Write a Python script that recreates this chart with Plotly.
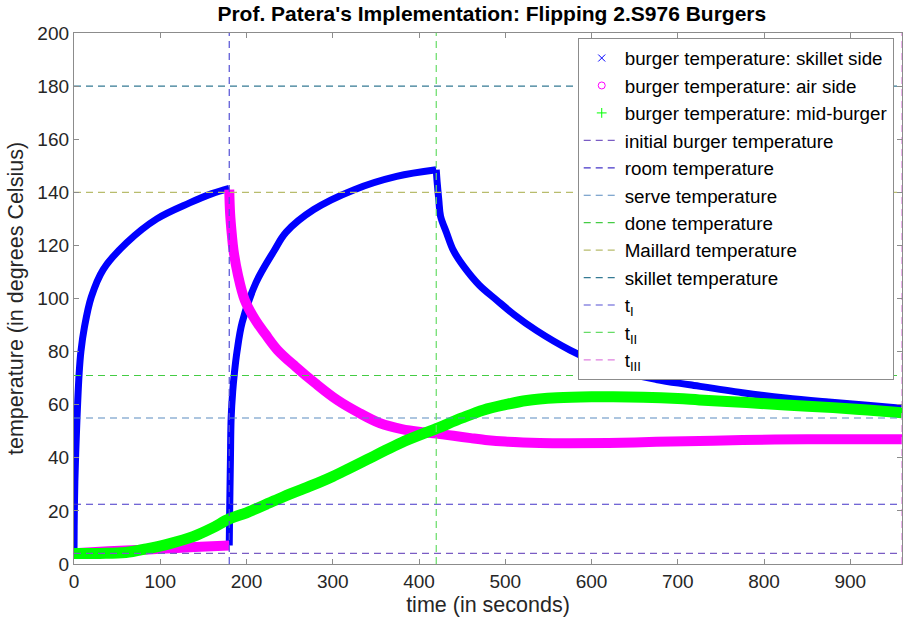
import plotly.graph_objects as go

# ---- burger surface / centre temperatures (time in s, temperature in deg C) ----
# skillet-side surface: three pieces (first side down, second side down, off the heat)
skillet_t1 = [0, 0.2, 0.5, 1, 2, 3.5, 6, 8, 12, 20, 34, 61, 96, 134, 160, 180]
skillet_T1 = [4, 14, 22, 31, 42, 55, 72, 80, 89, 100.5, 111, 121, 130, 136, 139.5, 141.5]
skillet_t2 = [180, 180.3, 180.8, 181.4, 182.2, 184, 186, 189, 195, 211, 232, 246, 278, 325, 374, 420]
skillet_T2 = [7, 16, 27, 40, 55, 65, 72, 80, 91, 106, 118, 125, 133.5, 141, 146, 148.5]
skillet_t3 = [420, 421, 423, 425, 432, 440, 452, 470, 490, 510, 536, 575, 625, 675, 714,
              775, 825, 875, 920, 960]
skillet_T3 = [148.5, 144, 137, 131, 124.7, 118, 112, 105, 99.4, 94, 88, 80.6, 73.5, 69.5,
              67.5, 64.5, 62.5, 61, 59.8, 58.7]

# air-side surface: before and after the first flip
air_t1 = [0, 30, 60, 100, 140, 180]
air_T1 = [4, 4.6, 5.1, 5.7, 6.4, 7]
air_t2 = [180, 181, 183, 185, 190, 198, 210, 222, 236, 257, 280, 305, 330, 355, 380, 405,
          420, 440, 460, 480, 500, 540, 574, 620, 675, 725, 775, 850, 900, 960]
air_T2 = [141, 132, 124, 118, 109, 99.4, 92, 86.5, 80.6, 74.3, 68, 61.8, 57, 53, 50.8, 49.6,
          49.1, 48.3, 47.4, 46.6, 46.1, 45.6, 45.5, 45.6, 46, 46.3, 46.7, 47, 47, 47]

# mid-burger
mid_t = [0, 30, 60, 84, 110, 138, 160, 180, 200, 232, 253, 275, 300, 350, 380, 420, 450,
         475, 500, 525, 560, 600, 625, 660, 700, 725, 780, 825, 880, 920, 960]
mid_T = [4, 4, 4.3, 5.7, 7.6, 10.3, 13.5, 17, 19.3, 23.8, 26.7, 29.5, 33, 41, 45.8, 51,
         55, 58, 60, 61.6, 62.6, 63, 63, 62.8, 62.3, 61.8, 60.8, 59.9, 58.9, 58, 57]

# ---- reference temperatures and event times ----
ref_names = ["initial burger temperature", "room temperature", "serve temperature",
             "done temperature", "Maillard temperature", "skillet temperature"]
ref_values = [4, 22.5, 55, 71, 140, 180]
ref_colors = ["#7a5cc4", "#4434c8", "#5a8cc0", "#44cc44", "#b8bc6c", "#357a94"]

event_names = ["t<sub>I</sub>", "t<sub>II</sub>", "t<sub>III</sub>"]
event_times = [180, 420, 960]
event_colors = ["#5450d4", "#66dc66", "#e080e0"]

T_MAX = 960
Y_MAX = 200

FONT = "Liberation Sans, Arial, Helvetica, sans-serif"
DASH = "7px,5px"


def joined(*pieces):
    xs, ys = [], []
    for i, (px, py) in enumerate(pieces):
        if i:
            xs.append(None)
            ys.append(None)
        xs.extend(px)
        ys.extend(py)
    return xs, ys


fig = go.Figure()

series = [
    ("burger temperature: skillet side", "#0000ff", "x-thin-open", 7,
     joined((skillet_t1, skillet_T1), (skillet_t2, skillet_T2), (skillet_t3, skillet_T3))),
    ("burger temperature: air side", "#ff00ff", "circle-open", 10,
     joined((air_t1, air_T1), (air_t2, air_T2))),
    ("burger temperature: mid-burger", "#00ff00", "cross-thin-open", 11,
     joined((mid_t, mid_T))),
]

rank = 1
for name, color, symbol, width, (xs, ys) in series:
    # dense band of samples
    fig.add_trace(go.Scatter(x=xs, y=ys, mode="lines",
                             line=dict(color=color, width=width, shape="spline", smoothing=1.0),
                             showlegend=False, hoverinfo="skip"))
    # legend entry showing the sample marker
    fig.add_trace(go.Scatter(x=[None], y=[None], mode="markers", name=name,
                             legendrank=rank,
                             marker=dict(symbol=symbol, size=7, color=color,
                                         line=dict(color=color, width=1))))
    rank += 1

for name, val, color in zip(ref_names, ref_values, ref_colors):
    fig.add_trace(go.Scatter(x=[0, T_MAX], y=[val, val], mode="lines", name=name,
                             legendrank=rank,
                             line=dict(color=color, width=1.2, dash=DASH)))
    rank += 1

for name, tv, color in zip(event_names, event_times, event_colors):
    fig.add_trace(go.Scatter(x=[tv, tv], y=[0, Y_MAX], mode="lines", name=name,
                             legendrank=rank,
                             line=dict(color=color, width=1.2, dash=DASH)))
    rank += 1

axis_common = dict(showline=True, linecolor="#8c8c8c", linewidth=1.3, mirror="ticks",
                   ticks="inside", ticklen=5, tickcolor="#8c8c8c", showgrid=False,
                   zeroline=False, tickfont=dict(family=FONT, size=19, color="#262626"))

fig.update_layout(
    width=904, height=627,
    margin=dict(l=74, r=2, t=33, b=63),
    paper_bgcolor="white", plot_bgcolor="white",
    title=dict(text="<b>Prof. Patera's Implementation: Flipping 2.S976 Burgers</b>",
               x=0.544, xanchor="center", y=0.99, yanchor="top",
               font=dict(family=FONT, size=21, color="#000000")),
    xaxis=dict(range=[0, T_MAX], tickvals=list(range(0, 901, 100)),
               title=dict(text="time (in seconds)", standoff=5,
                          font=dict(family=FONT, size=21.5, color="#262626")),
               **axis_common),
    yaxis=dict(range=[0, Y_MAX], tickvals=list(range(0, 201, 20)),
               title=dict(text="temperature (in degrees Celsius)", standoff=7,
                          font=dict(family=FONT, size=21.5, color="#262626")),
               **axis_common),
    legend=dict(x=0.99, xanchor="right", y=0.99, yanchor="top",
                bgcolor="#ffffff", bordercolor="#8c8c8c", borderwidth=1,
                font=dict(family=FONT, size=18.8, color="#000000"),
                itemwidth=36, tracegroupgap=0),
    showlegend=True,
)

fig.write_html("out.html")
